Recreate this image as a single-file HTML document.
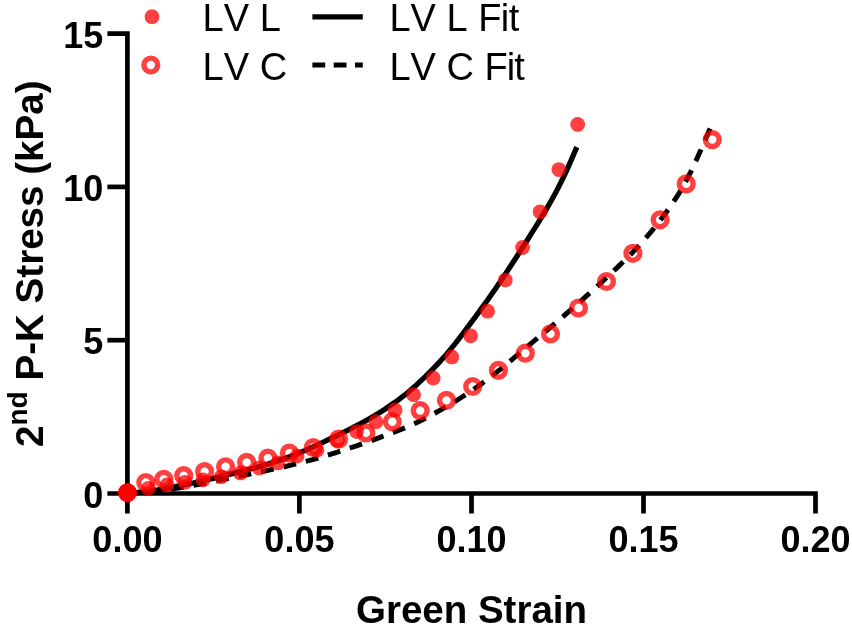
<!DOCTYPE html>
<html lang="en"><head><meta charset="utf-8"><title>Stress-strain chart</title>
<style>html,body{margin:0;padding:0;background:#fff}body{width:852px;height:628px;overflow:hidden}</style>
</head><body>
<svg width="852" height="628" viewBox="0 0 852 628" style="display:block;filter:blur(0.65px)">
<rect width="852" height="628" fill="#fff"/>
<g stroke="#000" stroke-width="4.7" fill="none" stroke-linecap="butt">
<path d="M107.4,33.6 H127.4 V513.5 M107.4,493.5 H815.5 V513.5"/>
<path d="M299.4,493.5 V513.5"/>
<path d="M471.5,493.5 V513.5"/>
<path d="M643.5,493.5 V513.5"/>
<path d="M107.4,340.2 H127.4"/>
<path d="M107.4,186.9 H127.4"/>
</g>
<g font-family='"Liberation Sans", Arial, Helvetica, sans-serif' font-weight="700" font-size="36" fill="#000">
<text x="127.4" y="552" text-anchor="middle">0.00</text>
<text x="299.4" y="552" text-anchor="middle">0.05</text>
<text x="471.5" y="552" text-anchor="middle">0.10</text>
<text x="643.5" y="552" text-anchor="middle">0.15</text>
<text x="815.5" y="552" text-anchor="middle">0.20</text>
<text x="103.4" y="507.6" text-anchor="end">0</text>
<text x="103.4" y="354.3" text-anchor="end">5</text>
<text x="103.4" y="201.0" text-anchor="end">10</text>
<text x="103.4" y="47.7" text-anchor="end">15</text>
</g>
<text x="471.5" y="623" text-anchor="middle" font-family='"Liberation Sans", Arial, Helvetica, sans-serif' font-weight="700" font-size="38.5">Green Strain</text>
<text transform="translate(42.5,447) rotate(-90)" font-family='"Liberation Sans", Arial, Helvetica, sans-serif' font-weight="700" font-size="38.6">2<tspan font-size="28" dy="-16">nd</tspan><tspan dy="16"> P-K Stress (kPa)</tspan></text>
<path d="M127.3,493.0 L132.4,492.6 L137.4,492.3 L142.5,491.8 L147.5,491.3 L152.6,490.6 L157.6,489.9 L162.7,489.0 L167.7,488.1 L172.8,487.2 L177.8,486.2 L182.9,485.1 L187.9,484.1 L193.0,483.0 L198.0,481.8 L203.1,480.7 L208.1,479.5 L213.2,478.3 L218.2,477.1 L223.3,475.9 L228.3,474.7 L233.4,473.4 L238.4,472.1 L243.5,470.8 L248.5,469.5 L253.6,468.1 L258.6,466.7 L263.7,465.2 L268.7,463.7 L273.8,462.1 L278.8,460.4 L283.9,458.7 L288.9,456.9 L294.0,455.0 L299.0,453.0 L304.1,450.9 L309.1,448.7 L314.2,446.4 L319.2,444.1 L324.3,441.7 L329.3,439.2 L334.4,436.8 L339.4,434.3 L344.5,431.8 L349.5,429.3 L354.6,426.7 L359.6,424.1 L364.7,421.4 L369.7,418.5 L374.8,415.5 L379.8,412.4 L384.9,409.2 L389.9,405.8 L395.0,402.3 L400.0,398.6 L405.1,394.7 L410.1,390.5 L415.2,386.1 L420.2,381.4 L425.3,376.6 L430.3,371.6 L435.4,366.4 L440.4,361.1 L445.5,355.4 L450.5,349.4 L455.6,343.1 L460.6,336.6 L465.7,329.9 L470.7,323.1 L475.8,316.3 L480.8,309.4 L485.9,302.4 L490.9,295.2 L496.0,288.0 L501.0,280.6 L506.1,273.0 L511.1,265.3 L516.2,257.5 L521.2,249.6 L526.3,241.7 L531.3,233.7 L536.4,225.7 L541.4,217.4 L546.5,209.0 L551.5,200.2 L556.6,190.9 L561.6,181.0 L566.7,170.4 L571.7,159.0 L576.8,147.1" fill="none" stroke="#000" stroke-width="5.3" stroke-linejoin="round"/>
<path d="M127.3,493.0 L133.8,492.8 L140.4,492.5 L146.9,492.1 L153.5,491.5 L160.0,490.7 L166.6,489.8 L173.1,488.8 L179.7,487.7 L186.2,486.6 L192.8,485.4 L199.3,484.2 L205.9,483.0 L212.4,481.7 L219.0,480.4 L225.5,479.1 L232.1,477.7 L238.6,476.4 L245.2,475.1 L251.7,473.8 L258.3,472.4 L264.8,471.0 L271.4,469.6 L277.9,468.2 L284.5,466.7 L291.0,465.1 L297.6,463.5 L304.1,461.8 L310.7,460.1 L317.2,458.3 L323.7,456.4 L330.3,454.4 L336.8,452.3 L343.4,450.2 L349.9,448.0 L356.5,445.9 L363.0,443.6 L369.6,441.3 L376.1,438.8 L382.7,436.3 L389.2,433.9 L395.8,431.5 L402.3,428.9 L408.9,426.2 L415.4,423.2 L422.0,420.0 L428.5,416.5 L435.1,413.0 L441.6,409.3 L448.2,405.5 L454.7,401.6 L461.3,397.5 L467.8,393.3 L474.4,388.8 L480.9,384.2 L487.5,379.4 L494.0,374.3 L500.6,369.1 L507.1,363.7 L513.7,358.2 L520.2,352.7 L526.7,347.2 L533.3,341.7 L539.8,336.2 L546.4,330.8 L552.9,325.2 L559.5,319.6 L566.0,314.0 L572.6,308.3 L579.1,302.6 L585.7,296.7 L592.2,290.9 L598.8,284.9 L605.3,278.8 L611.9,272.7 L618.4,266.4 L625.0,260.0 L631.5,253.4 L638.1,246.5 L644.6,239.3 L651.2,231.6 L657.7,223.6 L664.3,215.0 L670.8,205.8 L677.4,195.9 L683.9,184.9 L690.5,172.4 L697.0,158.5 L703.6,143.8 L710.1,128.5" fill="none" stroke="#000" stroke-width="5.0" stroke-linejoin="round" stroke-dasharray="12.9 10.06" stroke-dashoffset="2.1"/>
<g fill="rgb(255,0,0)" fill-opacity="0.75">
<circle cx="127.5" cy="492.3" r="7.4"/>
<circle cx="148.4" cy="488.3" r="7.4"/>
<circle cx="167" cy="485" r="7.4"/>
<circle cx="185" cy="482.3" r="7.4"/>
<circle cx="203.1" cy="479.8" r="7.4"/>
<circle cx="221.3" cy="476.8" r="7.4"/>
<circle cx="240.5" cy="472.9" r="7.4"/>
<circle cx="259.2" cy="467.9" r="7.4"/>
<circle cx="277.8" cy="462.9" r="7.4"/>
<circle cx="297.1" cy="456.1" r="7.4"/>
<circle cx="316.8" cy="450.3" r="7.4"/>
<circle cx="337.8" cy="440.3" r="7.4"/>
<circle cx="356.6" cy="431.6" r="7.4"/>
<circle cx="375.9" cy="421.7" r="7.4"/>
<circle cx="395.1" cy="409.9" r="7.4"/>
<circle cx="413.6" cy="394.7" r="7.4"/>
<circle cx="433.2" cy="378" r="7.4"/>
<circle cx="451.8" cy="356.9" r="7.4"/>
<circle cx="470.6" cy="335.8" r="7.4"/>
<circle cx="487.6" cy="311.2" r="7.4"/>
<circle cx="505.3" cy="280.1" r="7.4"/>
<circle cx="522.6" cy="247.5" r="7.4"/>
<circle cx="540.1" cy="211.8" r="7.4"/>
<circle cx="558.9" cy="169.6" r="7.4"/>
<circle cx="577.7" cy="124.4" r="7.4"/>
</g>
<g fill="none" stroke="rgb(255,0,0)" stroke-opacity="0.75" stroke-width="5.4">
<circle cx="127.5" cy="492.8" r="6.9"/>
<circle cx="145.8" cy="482.5" r="6.9"/>
<circle cx="163.8" cy="479.3" r="6.9"/>
<circle cx="183.7" cy="475.6" r="6.9"/>
<circle cx="204.6" cy="471.6" r="6.9"/>
<circle cx="225.6" cy="466.8" r="6.9"/>
<circle cx="246.7" cy="462.4" r="6.9"/>
<circle cx="267.9" cy="458.1" r="6.9"/>
<circle cx="289.4" cy="453.1" r="6.9"/>
<circle cx="313.3" cy="447.5" r="6.9"/>
<circle cx="338.6" cy="439.1" r="6.9"/>
<circle cx="365.9" cy="432.9" r="6.9"/>
<circle cx="392.3" cy="421.7" r="6.9"/>
<circle cx="420.2" cy="410.6" r="6.9"/>
<circle cx="446.5" cy="400.4" r="6.9"/>
<circle cx="472.7" cy="386.5" r="6.9"/>
<circle cx="498.4" cy="370.4" r="6.9"/>
<circle cx="525.3" cy="353.2" r="6.9"/>
<circle cx="550.5" cy="333.9" r="6.9"/>
<circle cx="578.5" cy="308" r="6.9"/>
<circle cx="606.5" cy="281.5" r="6.9"/>
<circle cx="632.9" cy="253.3" r="6.9"/>
<circle cx="660.1" cy="219.8" r="6.9"/>
<circle cx="686.2" cy="183.9" r="6.9"/>
<circle cx="712.3" cy="139.6" r="6.9"/>
</g>
<circle cx="127.4" cy="492.5" r="9.2" fill="rgb(255,0,0)"/>
<circle cx="152" cy="16.7" r="7.4" fill="rgb(255,0,0)" fill-opacity="0.75"/>
<circle cx="150.8" cy="65" r="6.9" fill="none" stroke="rgb(255,0,0)" stroke-opacity="0.75" stroke-width="5.4"/>
<path d="M312.4,16.8 H362.8" stroke="#000" stroke-width="5.3"/>
<path d="M312.4,64.9 H362.8" stroke="#000" stroke-width="5.0" stroke-dasharray="12.8 8.5"/>
<g font-family='"Liberation Sans", Arial, Helvetica, sans-serif' font-size="38" fill="#000" style="font-kerning:none">
<text x="202.6" y="30.6">LV L</text><text x="202.6" y="79.8">LV C</text>
<text x="389.4" y="30.6">LV L <tspan letter-spacing="-0.5">Fit</tspan></text><text x="389.4" y="79.8">LV C <tspan letter-spacing="-0.9">Fit</tspan></text>
</g>
</svg>
</body></html>
